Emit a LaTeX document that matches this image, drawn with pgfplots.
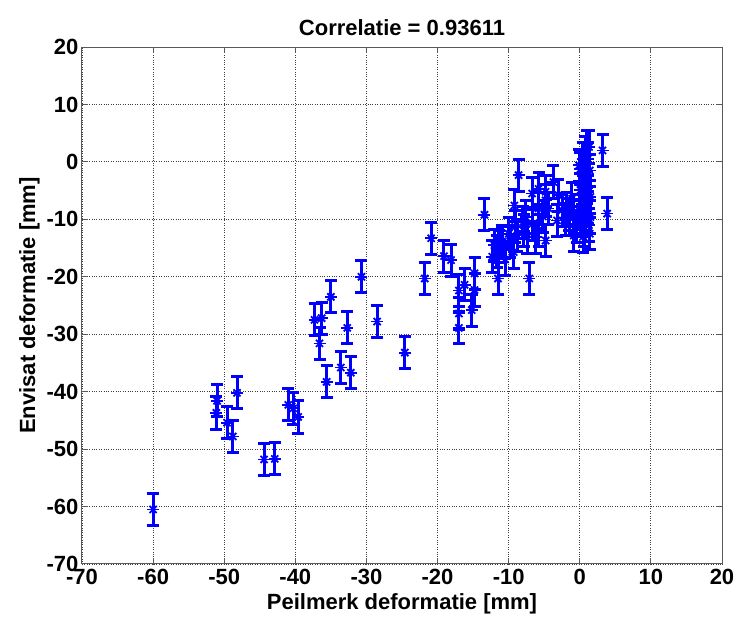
\documentclass[border=0pt]{standalone}
\usepackage{pgfplots}
\pgfplotsset{compat=1.18}
\usepackage{pgfplotstable}
\usepackage{fontspec}
\setmainfont{Liberation Sans}
\definecolor{mblue}{RGB}{0,0,255}
\pgfplotstableread{
x y
-60.0 -60.5
-51.1 -43.7
-51.0 -41.6
-49.6 -45.4
-48.8 -47.8
-48.2 -40.2
-44.4 -51.8
-42.9 -51.7
-41.0 -42.3
-40.3 -42.9
-39.6 -44.4
-37.3 -27.5
-36.3 -27.2
-36.6 -31.6
-35.0 -23.5
-35.6 -38.3
-33.6 -35.8
-32.2 -36.7
-32.7 -28.9
-30.7 -20.0
-28.5 -27.8
-24.6 -33.2
-21.8 -20.3
-20.9 -13.3
-19.1 -16.4
-18.1 -17.1
-17.0 -22.4
-17.0 -26.4
-17.0 -28.9
-16.2 -21.4
-15.2 -25.8
-14.8 -19.4
-14.8 -22.3
-13.4 -9.2
-12.0 -14.5
-11.7 -15.6
-12.3 -16.5
-11.5 -20.3
-11.0 -13.9
-10.9 -14.0
-11.4 -14.8
-10.5 -17.0
-10.0 -12.5
-9.8 -13.8
-9.3 -15.7
-7.1 -20.3
-8.6 -2.3
-9.2 -7.6
-9.1 -11.3
-8.8 -12.8
-8.0 -10.5
-7.9 -12.0
-7.6 -9.6
-6.7 -10.8
-6.2 -13.1
-4.8 -13.7
-7.4 -13.1
-5.8 -11.9
-5.2 -9.5
-6.7 -5.5
-5.8 -4.7
-4.8 -5.2
-3.7 -3.5
-3.0 -5.8
-2.5 -8.4
-1.8 -8.1
-2.0 -10.0
-1.5 -9.2
-1.1 -6.4
-4.8 -6.7
-5.8 -8.1
-4.4 -8.1
-3.2 -10.2
-0.85 -9.6
-0.4 -11.3
-0.85 -12.8
3.2 2.0
3.85 -9.0
1.0 2.6
1.3 2.6
0.8 1.7
1.1 0.5
0.4 0.5
-0.1 -0.6
0.1 -1.2
0.6 -2.0
1.4 -1.5
0.7 -3.5
0.1 -4.9
0.9 -5.5
1.5 -6.1
0.6 -7.3
-0.1 -8.4
0.8 -9.3
1.5 -9.6
0.3 -10.2
0.6 -11.9
1.3 -11.0
0.5 -13.0
1.4 -12.5
1.0 -4.5
0.3 -6.5
1.2 -8.0
}\datatable
\begin{document}
\begin{tikzpicture}
\begin{axis}[
  scale only axis,
  width=640pt, height=517pt,
  xmin=-70, xmax=20, ymin=-70, ymax=20,
  xtick distance=10, ytick distance=10,
  grid=major,
  grid style={dotted, black!75, line width=0.9pt},
  axis line style={black!65, line width=1pt},
  tick style={black!65, line width=1pt},
  major tick length=6pt,
  tick align=inside,
  xtick pos=both, ytick pos=both,
  /pgf/number format/assume math mode=true,
  ticklabel style={font=\fontsize{22}{26}\selectfont\bfseries},
  xticklabel style={yshift=-2pt},
  title={\bfseries Correlatie = 0.93611},
  title style={font=\fontsize{22}{26}\selectfont, yshift=2pt},
  xlabel={\bfseries Peilmerk deformatie [mm]},
  ylabel={\bfseries Envisat deformatie [mm]},
  label style={font=\fontsize{22}{26}\selectfont},
  xlabel style={yshift=-2pt},
  ylabel style={yshift=0pt},
]
\addplot[mblue, only marks, mark=+, mark size=6pt, mark options={line width=1.8pt},
  error bars/.cd, y dir=both, y fixed=2.8,
  error bar style={line width=3pt, mblue},
  error mark options={rotate=90, mblue, mark size=6pt, line width=3pt}]
  table[x=x, y=y] {\datatable};
\addplot[mblue, only marks, mark=x, mark size=5pt, mark options={line width=1.8pt}]
  table[x=x, y=y] {\datatable};
\end{axis}
\pgfresetboundingbox
\path (-82pt,-56pt) rectangle (654pt,564pt);
\end{tikzpicture}
\end{document}
